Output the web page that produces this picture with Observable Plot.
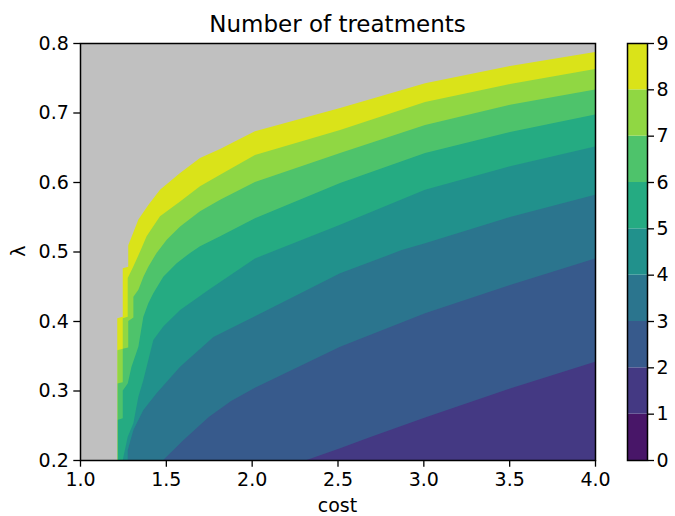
<!DOCTYPE html>
<html><head><meta charset="utf-8">
<script src="https://cdn.jsdelivr.net/npm/d3@7"></script>
<script src="https://cdn.jsdelivr.net/npm/@observablehq/plot@0.6"></script>
<style>
body{margin:0;background:#fff;font-family:"DejaVu Sans",sans-serif;color:#000}
#wrap{position:relative;width:675px;height:516px;overflow:hidden}
#wrap>*{position:absolute}
.title{left:80px;width:515px;top:11px;text-align:center;font-size:23px;white-space:nowrap}
.xlabel{left:80px;width:515px;top:494px;text-align:center;font-size:19px}
.ylabel{left:18px;top:251px;transform:translate(-50%,-50%) rotate(-90deg);font-size:19px}
</style></head><body><div id="wrap"></div>
<script>
// ---- data ----
const costTicks = [1.0, 1.5, 2.0, 2.5, 3.0, 3.5, 4.0];
const lamTicks = [0.2, 0.3, 0.4, 0.5, 0.6, 0.7, 0.8];
const barTicks = [0, 1, 2, 3, 4, 5, 6, 7, 8, 9];
const bins = [0, 1, 2, 3, 4, 5, 6, 7, 8];

// boundary where the number of treatments reaches each level (cost, λ)
const c2Cost = [2.32, 2.515, 2.68, 3.01, 3.505, 4.0, 4.0];
const c2Lam  = [0.200, 0.217, 0.232, 0.261, 0.303, 0.3414, 0.8];

const c3Cost = [1.485, 1.60, 1.75, 1.88, 2.019, 2.515, 3.01, 3.505, 4.0, 4.0];
const c3Lam  = [0.200, 0.228, 0.262, 0.285, 0.304, 0.363, 0.411, 0.4518, 0.490, 0.8];

const c4Cost = [1.278, 1.278, 1.311, 1.369, 1.446, 1.583, 1.777, 2.019, 2.515, 2.874, 3.01, 3.505, 4.0, 4.0];
const c4Lam  = [0.200, 0.214, 0.243, 0.272, 0.296, 0.334, 0.377, 0.407, 0.4686, 0.502, 0.512, 0.5497, 0.5817, 0.8];

const c5Cost = [1.249, 1.278, 1.311, 1.34, 1.369, 1.398, 1.427, 1.485, 1.583, 1.75, 2.019, 2.515, 3.01, 3.505, 4.0, 4.0];
const c5Lam  = [0.200, 0.2336, 0.253, 0.291, 0.315, 0.344, 0.3727, 0.392, 0.4158, 0.445, 0.490, 0.5386, 0.589, 0.6226, 0.651, 0.8];

const c6Cost = [1.217, 1.217, 1.249, 1.249, 1.278, 1.30, 1.34, 1.369, 1.398, 1.427, 1.485, 1.563, 1.641, 1.699, 1.816, 2.019, 2.515, 3.01, 3.505, 4.0, 4.0];
const c6Lam  = [0.200, 0.2576, 0.26, 0.30, 0.31, 0.334, 0.363, 0.406, 0.4255, 0.44, 0.4638, 0.483, 0.498, 0.5075, 0.522, 0.548, 0.5986, 0.6417, 0.672, 0.697, 0.8];

const c7Cost = [1.217, 1.217, 1.249, 1.249, 1.281, 1.281, 1.311, 1.311, 1.34, 1.37, 1.398, 1.446, 1.505, 1.583, 1.699, 1.816, 2.019, 2.515, 3.01, 3.505, 4.0, 4.0];
const c7Lam  = [0.200, 0.310, 0.312, 0.360, 0.362, 0.400, 0.405, 0.435, 0.445, 0.464, 0.478, 0.498, 0.517, 0.536, 0.558, 0.5746, 0.600, 0.6417, 0.682, 0.711, 0.733, 0.8];

const c8Cost = [1.217, 1.217, 1.249, 1.249, 1.278, 1.278, 1.31, 1.35, 1.388, 1.466, 1.583, 1.699, 1.816, 2.019, 2.515, 3.01, 3.505, 4.0, 4.0];
const c8Lam  = [0.200, 0.358, 0.360, 0.404, 0.406, 0.462, 0.478, 0.500, 0.522, 0.5506, 0.572, 0.594, 0.6105, 0.639, 0.675, 0.715, 0.741, 0.7626, 0.8];

// above this (and left of the cut-off) no value: grey
const c9Cost = [1.217, 1.217, 1.249, 1.249, 1.281, 1.281, 1.31, 1.34, 1.398, 1.466, 1.583, 1.699, 1.816, 1.91, 2.019, 2.515, 3.01, 3.505, 4.0, 4.0];
const c9Lam  = [0.200, 0.404, 0.406, 0.476, 0.478, 0.509, 0.527, 0.546, 0.567, 0.589, 0.613, 0.6345, 0.6475, 0.6594, 0.673, 0.7065, 0.742, 0.767, 0.787, 0.8];

// ---- drawing ----
const GRAY = "#c0c0c0";
const colors = bins.map(k => d3.interpolateViridis((k + 0.5) / 9));
const rows = (cost, lam) => cost.map((c, i) => ({cost: c, lam: lam[i]}));
const curves = [
  {level: 2, cost: c2Cost, lam: c2Lam},
  {level: 3, cost: c3Cost, lam: c3Lam},
  {level: 4, cost: c4Cost, lam: c4Lam},
  {level: 5, cost: c5Cost, lam: c5Lam},
  {level: 6, cost: c6Cost, lam: c6Lam},
  {level: 7, cost: c7Cost, lam: c7Lam},
  {level: 8, cost: c8Cost, lam: c8Lam},
  {level: 9, cost: c9Cost, lam: c9Lam}
];
const style = {fontFamily: "DejaVu Sans", fontSize: "19px", background: "transparent", color: "#000", overflow: "visible"};

const marks = [Plot.frame({fill: colors[1], stroke: "none"})];
for (const cv of curves) {
  marks.push(Plot.areaX(rows(cv.cost, cv.lam), {
    y: "lam", x1: 1, x2: "cost", curve: "linear", clip: true,
    fill: cv.level === 9 ? GRAY : colors[cv.level]
  }));
}
marks.push(Plot.frame({stroke: "#000", strokeWidth: 1.5}));
marks.push(Plot.axisX({ticks: costTicks, tickFormat: d3.format(".1f"), tickSize: 6.7, tickPadding: 5, label: null, strokeWidth: 1.3}));
marks.push(Plot.axisY({ticks: lamTicks, tickFormat: d3.format(".1f"), tickSize: 6.7, tickPadding: 5, label: null, strokeWidth: 1.3}));

const main = Plot.plot({
  width: 675, height: 516,
  marginLeft: 80, marginRight: 80, marginTop: 43, marginBottom: 56,
  x: {domain: [1, 4]},
  y: {domain: [0.2, 0.8]},
  style,
  marks
});

const bar = Plot.plot({
  width: 48, height: 516,
  marginLeft: 0, marginRight: 28, marginTop: 43, marginBottom: 56,
  x: {domain: [0, 1], axis: null},
  y: {domain: [0, 9]},
  color: {type: "identity"},
  style,
  marks: [
    Plot.rect(bins, {x1: 0, x2: 1, y1: d => d, y2: d => d + 1, fill: d => colors[d]}),
    Plot.frame({stroke: "#000", strokeWidth: 1.5}),
    Plot.axisY({anchor: "right", ticks: barTicks, tickFormat: d3.format("d"), tickSize: 6, tickPadding: 3, label: null, strokeWidth: 1.3})
  ]
});

const wrap = document.getElementById("wrap");
main.style.left = "0px"; main.style.top = "0px";
bar.style.left = "627px"; bar.style.top = "0px";
wrap.appendChild(main);
wrap.appendChild(bar);
const t = document.createElement("div"); t.className = "title"; t.textContent = "Number of treatments"; wrap.appendChild(t);
const xl = document.createElement("div"); xl.className = "xlabel"; xl.textContent = "cost"; wrap.appendChild(xl);
const yl = document.createElement("div"); yl.className = "ylabel"; yl.textContent = "λ"; wrap.appendChild(yl);
</script>
</body></html>
